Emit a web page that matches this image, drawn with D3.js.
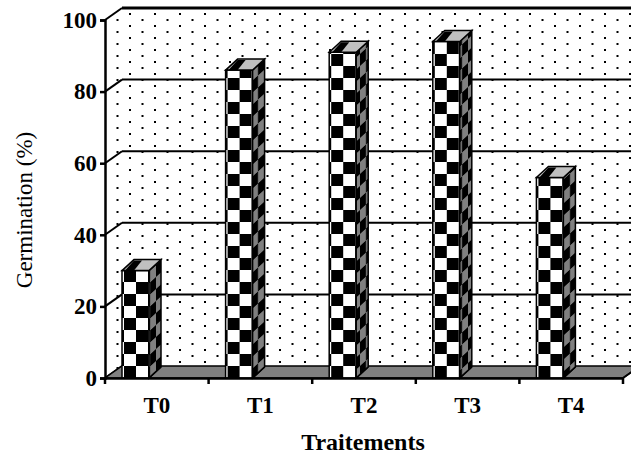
<!DOCTYPE html>
<html><head><meta charset="utf-8">
<script src="https://cdn.jsdelivr.net/npm/d3@7"></script>
<style>body{margin:0;background:#fff}svg{display:block}</style>
</head><body>
<script>
const categories = ["T0","T1","T2","T3","T4"];
const values = [30, 86, 91, 94, 56];
const yTicks = [0, 20, 40, 60, 80, 100];
const yTitle = "Germination (%)";
const xTitle = "Traitements";

const W = 631, H = 454;
const svg = d3.select("body").append("svg").attr("width", W).attr("height", H);
const defs = svg.append("defs");

const x = d3.scaleBand().domain(categories).range([105, 623]).paddingInner(0).paddingOuter(0);
const y = d3.scaleLinear().domain([0, 100]).range([378, 20]);
const DX = 17, DY = -12;      // wall depth
const BDX = 12, BDY = -11;    // bar depth
const BOFF = 17, BW = 27;     // bar offset in band and front width

// dot pattern
const dots = defs.append("pattern").attr("id","dots").attr("patternUnits","userSpaceOnUse")
  .attr("width",25).attr("height",12);
dots.append("rect").attr("width",25).attr("height",12).attr("fill","#fff");
dots.append("rect").attr("x",4).attr("y",1).attr("width",2).attr("height",2).attr("fill","#000");
dots.append("rect").attr("x",16.5).attr("y",7).attr("width",2).attr("height",2).attr("fill","#000");

// side pattern (skewed)
const side = defs.append("pattern").attr("id","side").attr("patternUnits","userSpaceOnUse")
  .attr("width",12).attr("height",24)
  .attr("patternTransform", `skewY(${Math.atan2(BDY,BDX)*180/Math.PI})`);
side.append("rect").attr("width",12).attr("height",24).attr("fill","#808080");
side.append("rect").attr("x",0).attr("y",0).attr("width",6).attr("height",12).attr("fill","#000");
side.append("rect").attr("x",6).attr("y",12).attr("width",6).attr("height",12).attr("fill","#000");

// back wall
svg.append("rect").attr("x", 105+DX).attr("y", y(100)+DY).attr("width", 660).attr("height", y(0)-y(100))
  .attr("fill","url(#dots)");
// side wall
svg.append("path").attr("d", `M105,${y(0)} L${105+DX},${y(0)+DY} L${105+DX},${y(100)+DY} L105,${y(100)} Z`)
  .attr("fill","url(#dots)");

// gridlines on back wall + diagonals on side wall
yTicks.forEach(t => {
  if (t > 0) {
    svg.append("line").attr("x1",105+DX).attr("x2",W+20).attr("y1",y(t)+DY).attr("y2",y(t)+DY)
      .attr("stroke","#000").attr("stroke-width", t===100?3:2);
  }
  svg.append("line").attr("x1",105).attr("y1",y(t)).attr("x2",105+DX).attr("y2",y(t)+DY)
    .attr("stroke","#000").attr("stroke-width",2);
});

// floor
svg.append("path").attr("d", `M105,${y(0)} L623,${y(0)} L${623+DX},${y(0)+DY} L${105+DX},${y(0)+DY} Z`)
  .attr("fill","#808080").attr("stroke","#000").attr("stroke-width",1.5);

// bars
categories.forEach((c, i) => {
  const v = values[i];
  const x0 = x(c) + BOFF, x1 = x0 + BW;
  const yt = y(v), yb = y(0);
  const pid = "chk" + i;
  const p = defs.append("pattern").attr("id", pid).attr("patternUnits","userSpaceOnUse")
    .attr("x", x0 + 2).attr("y", yb).attr("width",24).attr("height",24);
  p.append("rect").attr("width",24).attr("height",24).attr("fill","#fff");
  p.append("rect").attr("x",12).attr("y",0).attr("width",12).attr("height",12).attr("fill","#000");
  p.append("rect").attr("x",0).attr("y",12).attr("width",12).attr("height",12).attr("fill","#000");
  const g = svg.append("g");
  g.append("rect").attr("x",x0).attr("y",yt).attr("width",BW).attr("height",yb-yt)
    .attr("fill",`url(#${pid})`).attr("stroke","#000").attr("stroke-width",1.5);
  g.append("path").attr("d",`M${x1},${yt} L${x1+BDX},${yt+BDY} L${x1+BDX},${yb+BDY} L${x1},${yb} Z`)
    .attr("fill","url(#side)").attr("stroke","#000").attr("stroke-width",1.5);
  g.append("path").attr("d",`M${x0},${yt} L${x0+BDX},${yt+BDY} L${x1+BDX},${yt+BDY} L${x1},${yt} Z`)
    .attr("fill","#c0c0c0").attr("stroke","#000").attr("stroke-width",1.5);
  g.append("path").attr("d",`M${x0+3},${yt} L${x0+BDX},${yt+BDY+1} L${x0+BDX+8},${yt+BDY+1} L${x0+12},${yt} Z`)
    .attr("fill","#000");
  g.append("line").attr("x1",x1).attr("y1",yb).attr("x2",x1+BDX).attr("y2",yb+BDY)
    .attr("stroke","#000").attr("stroke-width",1.5);
});

const FONT = "Liberation Serif, Times New Roman, serif";

// front y axis
const yAxis = d3.axisLeft(y).tickValues(yTicks).tickSize(5).tickPadding(3).tickFormat(d3.format("d"));
const ya = svg.append("g").attr("transform","translate(105,0)").call(yAxis);
ya.select(".domain").attr("stroke-width",2.5);
ya.selectAll(".tick line").attr("stroke-width",2.5);
ya.selectAll("text").attr("font-family",FONT).attr("font-weight","bold")
  .attr("font-size","23px").attr("fill","#000");

// front x axis
const xAxis = d3.axisBottom(x).tickSize(0).tickPadding(19);
const xa = svg.append("g").attr("transform",`translate(0,${y(0)})`).call(xAxis);
xa.select(".domain").attr("stroke-width",2.5);
xa.selectAll("text").attr("font-family",FONT).attr("font-weight","bold")
  .attr("font-size","23px").attr("fill","#000");
const bounds = categories.map(c => x(c)).concat([x.range()[1]]);
svg.append("g").selectAll("line").data(bounds).join("line")
  .attr("x1",d=>d).attr("x2",d=>d).attr("y1",y(0)).attr("y2",y(0)+6)
  .attr("stroke","#000").attr("stroke-width",2.5);
svg.append("line").attr("x1",623).attr("y1",y(0)).attr("x2",623+DX).attr("y2",y(0)+DY)
  .attr("stroke","#000").attr("stroke-width",2);

// titles
svg.append("text").attr("x",363).attr("y",450).attr("text-anchor","middle")
  .attr("font-family",FONT).attr("font-weight","bold").attr("font-size","24px").text(xTitle);
svg.append("text").attr("transform","translate(32,210) rotate(-90)").attr("text-anchor","middle")
  .attr("font-family",FONT).attr("font-size","23px").text(yTitle);
</script>
</body></html>
